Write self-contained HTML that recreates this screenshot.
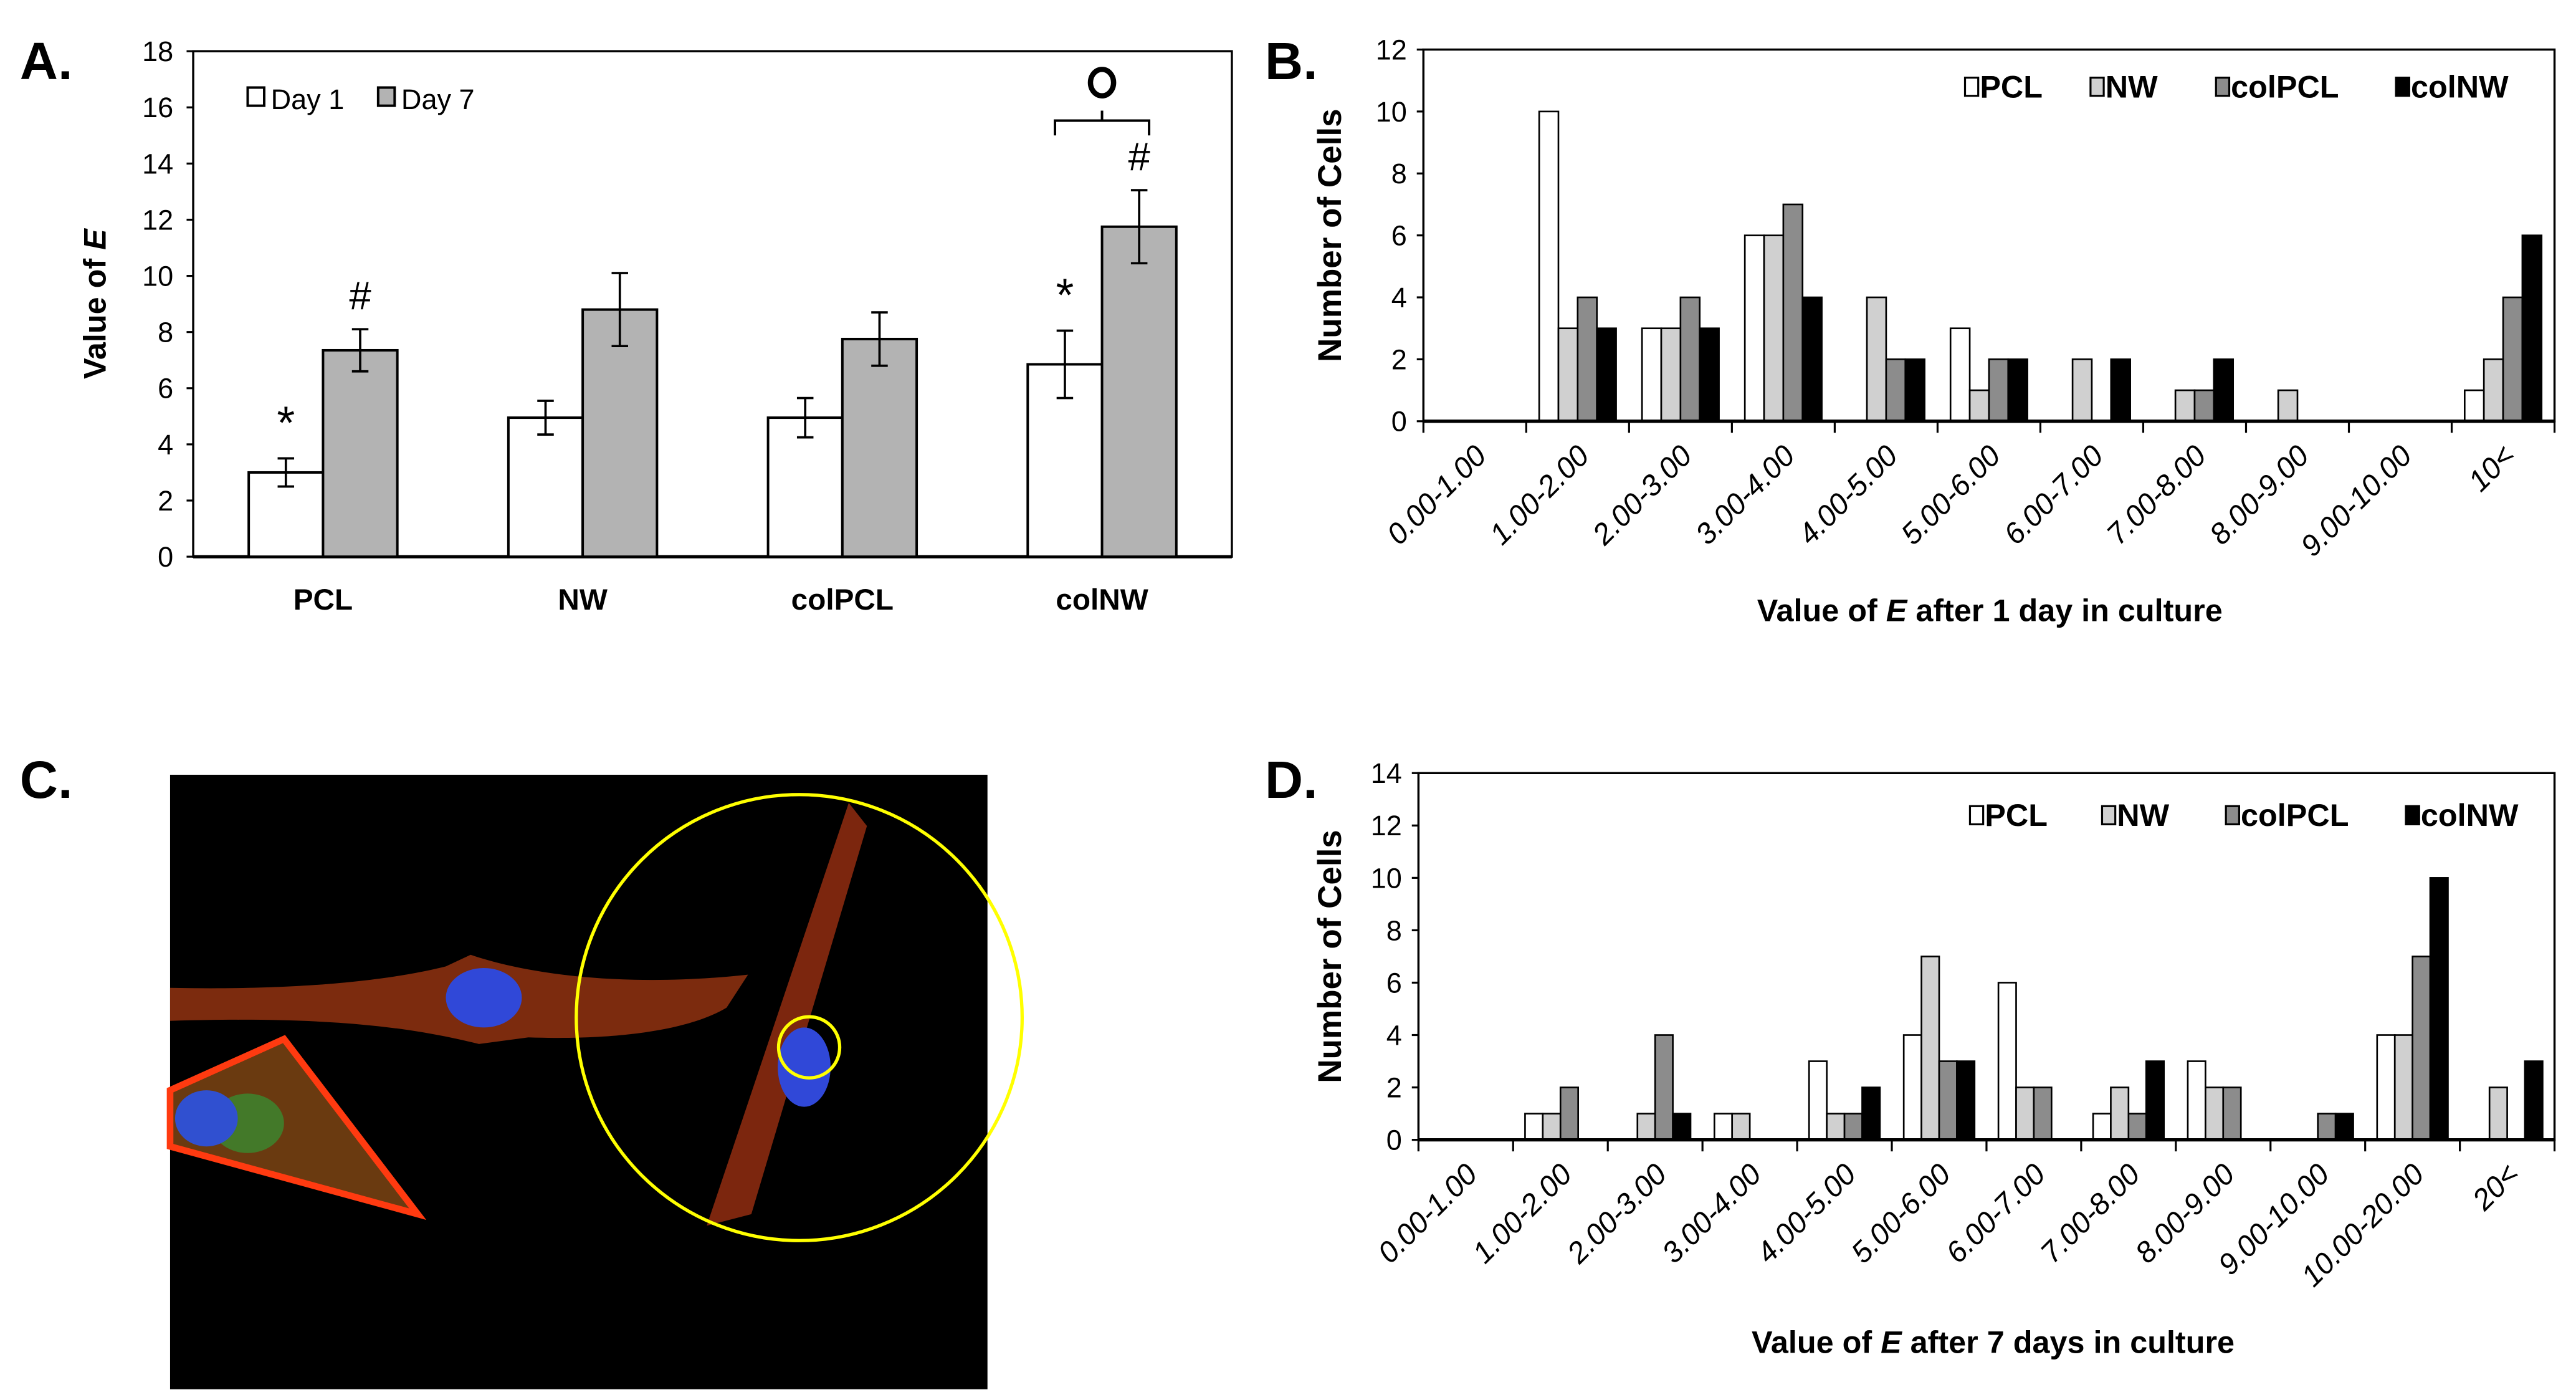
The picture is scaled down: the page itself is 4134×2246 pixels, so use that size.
<!DOCTYPE html>
<html><head><meta charset="utf-8">
<style>
html,body{margin:0;padding:0;background:#fff;}
svg{display:block;}
text{font-family:"Liberation Sans Narrow","Liberation Sans",sans-serif;}
.b{font-family:"Liberation Sans",sans-serif;font-weight:bold;}
</style></head>
<body>
<svg id="fig" width="4134" height="2246" viewBox="0 0 1560 847.5" preserveAspectRatio="none" xmlns="http://www.w3.org/2000/svg">
  <g>
    <rect x="103" y="469" width="495" height="372" fill="#000"/>
    <path d="M103,598 C200,600 250,590 270,585 L285,578 C320,590 380,598 453,590 L440,610 C420,622 380,630 320,628 L290,632 C250,622 200,615 103,618 Z" fill="#8a3010" opacity="0.9"/>
    <path d="M103,660 L172,629 L253,735 L103,694 Z" fill="#6a3a10" stroke="#ff3a10" stroke-width="4"/>
    <ellipse cx="150" cy="680" rx="22" ry="18" fill="#3a8a30" opacity="0.8"/>
    <ellipse cx="125" cy="677" rx="19" ry="17" fill="#3050d0"/>
    <path d="M514,486 L525,500 L455,735 L428,742 Z" fill="#8a2a10" opacity="0.9"/>
    <ellipse cx="293" cy="604" rx="23" ry="18" fill="#3048d8"/>
    <ellipse cx="487" cy="646" rx="16" ry="24" fill="#3048d8"/>
    <circle cx="484" cy="616" r="135" fill="none" stroke="#ffff00" stroke-width="2"/>
    <circle cx="490" cy="634" r="18.5" fill="none" stroke="#ffff00" stroke-width="2"/>
  </g>
  <text class="b" x="12" y="48" font-size="32">A.</text>
  <text class="b" x="766" y="48" font-size="32">B.</text>
  <text class="b" x="12" y="483" font-size="32">C.</text>
  <text class="b" x="766" y="483" font-size="32">D.</text>
</svg>
<script>
// ---- Panel A data ----
const aCategories = ["PCL","NW","colPCL","colNW"];
const aDay1 = [3.0, 4.95, 4.95, 6.85];
const aDay7 = [7.35, 8.8, 7.75, 11.75];
const aErr1 = [0.5, 0.6, 0.7, 1.2];
const aErr7 = [0.75, 1.3, 0.95, 1.3];
const aTicks = [0,2,4,6,8,10,12,14,16,18];
// ---- Panel B data ----
const bCategories = ["0.00-1.00","1.00-2.00","2.00-3.00","3.00-4.00","4.00-5.00","5.00-6.00","6.00-7.00","7.00-8.00","8.00-9.00","9.00-10.00","10<"];
const bPCL    = [0,10,3,6,0,3,0,0,0,0,1];
const bNW     = [0,3,3,6,4,1,2,1,1,0,2];
const bColPCL = [0,4,4,7,2,2,0,1,0,0,4];
const bColNW  = [0,3,3,4,2,2,2,2,0,0,6];
const bTicks = [0,2,4,6,8,10,12];
// ---- Panel D data ----
const dCategories = ["0.00-1.00","1.00-2.00","2.00-3.00","3.00-4.00","4.00-5.00","5.00-6.00","6.00-7.00","7.00-8.00","8.00-9.00","9.00-10.00","10.00-20.00","20<"];
const dPCL    = [0,1,0,1,3,4,6,1,3,0,4,0];
const dNW     = [0,1,1,1,1,7,2,2,2,0,4,2];
const dColPCL = [0,2,4,0,1,3,2,1,2,1,7,0];
const dColNW  = [0,0,1,0,2,3,0,3,0,1,10,3];
const dTicks = [0,2,4,6,8,10,12,14];
const seriesNames = ["PCL","NW","colPCL","colNW"];

const NS = "http://www.w3.org/2000/svg";
const svg = document.getElementById("fig");
function mk(tag, attrs, parent, txt){
  const e = document.createElementNS(NS, tag);
  for (const k in attrs) e.setAttribute(k, attrs[k]);
  if (txt !== undefined) e.textContent = txt;
  (parent||svg).appendChild(e);
  return e;
}
function grp(name){
  const g = mk("g", {});
  
  
  return g;
}

// ===== Panel A =====
(function(){
  const L=117, R=746, T=31, B=337, max=18;
  const y = v => B - v/max*(B-T);
  const g = grp("panel-a-chart");
  const frame = mk("rect",{x:L,y:T,width:R-L,height:B-T,fill:"none",stroke:"#000","stroke-width":1.3},g);
  
  
  aTicks.forEach(t=>{
    mk("line",{x1:L-4,x2:L,y1:y(t),y2:y(t),stroke:"#000","stroke-width":1.2},g);
    const tx = mk("text",{x:L-12,y:y(t)+6,"font-size":17,"text-anchor":"end"},g,String(t));
    
    
  });
  mk("line",{x1:L,x2:R,y1:B,y2:B,stroke:"#000","stroke-width":2},g);
  const yl = mk("text",{x:0,y:0,"font-size":19,"text-anchor":"middle",class:"b",transform:`translate(64,${(T+B)/2}) rotate(-90)`},g);
  yl.innerHTML = 'Value of <tspan font-style="italic">E</tspan>';
  
  
  const step = (R-L)/4, bw = 45;
  aCategories.forEach((c,i)=>{
    const cx = L + step*(i+0.5);
    [[aDay1,aErr1,"#fff",cx-bw],[aDay7,aErr7,"#b3b3b3",cx]].forEach(([vals,errs,fill,x0],s)=>{
      const r = mk("rect",{x:x0,y:y(vals[i]),width:bw,height:B-y(vals[i]),fill:fill,stroke:"#000","stroke-width":1.5},g);
      
      
      const xm = x0+bw/2, hi=y(vals[i]+errs[i]), lo=y(vals[i]-errs[i]);
      mk("line",{x1:xm,x2:xm,y1:hi,y2:lo,stroke:"#000","stroke-width":1.4},g);
      mk("line",{x1:xm-5,x2:xm+5,y1:hi,y2:hi,stroke:"#000","stroke-width":1.4},g);
      mk("line",{x1:xm-5,x2:xm+5,y1:lo,y2:lo,stroke:"#000","stroke-width":1.4},g);
    });
    const lab = mk("text",{x:cx,y:369,"font-size":18,"text-anchor":"middle",class:"b"},g,c);
    
    
  });
  function ann(sym, i, s, vals, errs, fs){
    const cx = L + step*(i+0.5) + (s? bw/2 : -bw/2);
    const t = mk("text",{x:cx,y:y(vals[i]+errs[i])-12,"font-size":fs,"text-anchor":"middle"},g,sym);
    
    
  }
  ann("*",0,0,aDay1,aErr1,28); ann("#",0,1,aDay7,aErr7,24);
  ann("*",3,0,aDay1,aErr1,28); ann("#",3,1,aDay7,aErr7,24);
  const bx1 = L+step*3.5-bw/2-6, bx2 = L+step*3.5+bw/2+6, bm=(bx1+bx2)/2;
  const br = mk("path",{d:`M${bx1},82 L${bx1},73 L${bx2},73 L${bx2},82 M${bm},73 L${bm},67`,fill:"none",stroke:"#000","stroke-width":1.5},g);
  
  
  const o = mk("ellipse",{cx:bm,cy:50,rx:7,ry:8,fill:"none",stroke:"#000","stroke-width":3.2},g);
  
  
  const lg = mk("g",{},g);
  
  
  mk("rect",{x:150,y:53,width:10,height:11,fill:"#fff",stroke:"#000","stroke-width":1.5},lg);
  mk("text",{x:164,y:66,"font-size":17},lg,"Day 1");
  mk("rect",{x:229,y:53,width:10,height:11,fill:"#b3b3b3",stroke:"#000","stroke-width":1.5},lg);
  mk("text",{x:243,y:66,"font-size":17},lg,"Day 7");
})();

// ===== Histogram helper =====
function hist(name, cats, series, ticks, max, L,R,T,B, legX, legY, title, titleX, titleY){
  const y = v => B - v/max*(B-T);
  const g = grp(name);
  const frame = mk("rect",{x:L,y:T,width:R-L,height:B-T,fill:"none",stroke:"#000","stroke-width":1.3},g);
  
  
  ticks.forEach(t=>{
    mk("line",{x1:L-4,x2:L,y1:y(t),y2:y(t),stroke:"#000","stroke-width":1.2},g);
    const tx = mk("text",{x:L-10,y:y(t)+6,"font-size":17,"text-anchor":"end"},g,String(t));
    
    
  });
  const n = cats.length, cw = (R-L)/n, bw = cw*0.187;
  const fills = ["#fff","#d0d0d0","#8c8c8c","#000"];
  cats.forEach((c,i)=>{
    const x0 = L + cw*i + (cw-4*bw)/2;
    series.forEach((vals,s)=>{
      if (vals[i] > 0){
        const r = mk("rect",{x:x0+s*bw,y:y(vals[i]),width:bw,height:B-y(vals[i]),fill:fills[s],stroke:"#000","stroke-width":1},g);
        
        
      }
    });
    mk("line",{x1:L+cw*i,x2:L+cw*i,y1:B,y2:B+7,stroke:"#000","stroke-width":1.2},g);
    const cx = L+cw*(i+0.5)+8;
    const tx = mk("text",{x:cx,y:B+22,"font-size":18,"text-anchor":"end","font-style":"italic",transform:`rotate(-45 ${cx} ${B+22})`},g,c);
    
    
  });
  mk("line",{x1:R,x2:R,y1:B,y2:B+7,stroke:"#000","stroke-width":1.2},g);
  mk("line",{x1:L,x2:R,y1:B,y2:B,stroke:"#000","stroke-width":2},g);
  const yl = mk("text",{x:0,y:0,"font-size":20,"text-anchor":"middle",class:"b",transform:`translate(812,${(T+B)/2}) rotate(-90)`},g,"Number of Cells");
  
  
  const xt = mk("text",{x:titleX,y:titleY,"font-size":19,"text-anchor":"middle",class:"b"},g);
  xt.innerHTML = 'Value of <tspan font-style="italic">E</tspan> ' + title;
  
  
  const lg = mk("g",{},g);
  
  
  seriesNames.forEach((s,k)=>{
    mk("rect",{x:legX[k],y:legY-12,width:8,height:11,fill:fills[k],stroke:"#000","stroke-width":1.2},lg);
    mk("text",{x:legX[k]+9,y:legY,"font-size":19,class:"b"},lg,s);
  });
}
hist("panel-b-chart", bCategories, [bPCL,bNW,bColPCL,bColNW], bTicks, 12, 862,1547,30,255, [1190,1266,1342,1451], 59, "after 1 day in culture", 1205, 376);
hist("panel-d-chart", dCategories, [dPCL,dNW,dColPCL,dColNW], dTicks, 14, 859,1547,468,690, [1193,1273,1348,1457], 500, "after 7 days in culture", 1207, 819);
</script>
</body></html>
